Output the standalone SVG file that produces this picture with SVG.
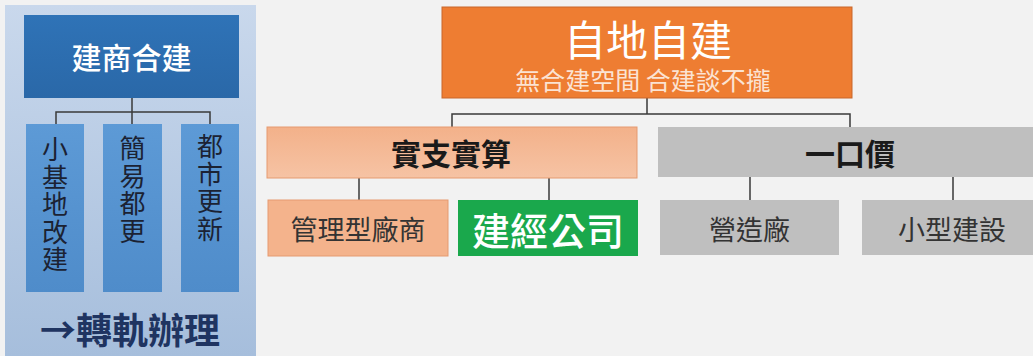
<svg xmlns="http://www.w3.org/2000/svg" width="1033" height="356" viewBox="0 0 1033 356">
<defs>
<linearGradient id="panelG" x1="0" y1="0" x2="0" y2="1">
<stop offset="0" stop-color="#c9d8ec"/>
<stop offset="1" stop-color="#a6bedc"/>
</linearGradient>
<linearGradient id="blueG" x1="0" y1="0" x2="0" y2="1">
<stop offset="0" stop-color="#2f73b7"/>
<stop offset="1" stop-color="#2a68a8"/>
</linearGradient>
<linearGradient id="colG" x1="0" y1="0" x2="0" y2="1">
<stop offset="0" stop-color="#5d9ad6"/>
<stop offset="1" stop-color="#4f8cca"/>
</linearGradient>
<linearGradient id="salG" x1="0" y1="0" x2="0" y2="1">
<stop offset="0" stop-color="#f3b18a"/>
<stop offset="1" stop-color="#f6c3a4"/>
</linearGradient>
</defs>
<style>
text{font-family:"Noto Sans CJK TC","Noto Sans CJK SC",sans-serif;text-anchor:middle;dominant-baseline:central}
.ln{fill:none;stroke:#3a3a3a;stroke-width:1.5}
.col{fill:url(#colG)}
.coltx{font-size:26px;fill:#1b2233}
.sal{fill:#f4b38c;stroke:#e59a70;stroke-width:1}
.gray{fill:#bfbfbf}
.sub{font-size:27px;fill:#333333}
.hd{font-size:30px;font-weight:bold;fill:#1a1a1a}
</style>
<rect x="0" y="0" width="1033" height="356" fill="#f2f2f2"/>

<g id="left-panel">
<rect x="5" y="5" width="251" height="351" fill="url(#panelG)"/>
</g>

<g id="connectors">
<path class="ln" d="M132 98 V112 M56 124 V112 H210 V124 M132 112 V124"/>
<path class="ln" d="M647 98 V114 M452 127 V114 H850 V127"/>
<path class="ln" d="M359 178 V200 M549 178 V200"/>
<path class="ln" d="M750 177 V200 M953 177 V200"/>
</g>

<g id="node-jianshang">
<rect x="24" y="15" width="215" height="83" fill="url(#blueG)"/>
<text x="131.5" y="56" style="font-size:30px;font-weight:500;fill:#ffffff">建商合建</text>
</g>

<g id="node-xiaojidi">
<rect class="col" x="26" y="124" width="58" height="168"/>
<text class="coltx" x="55" y="147">小</text>
<text class="coltx" x="55" y="175">基</text>
<text class="coltx" x="55" y="202.5">地</text>
<text class="coltx" x="55" y="230">改</text>
<text class="coltx" x="55" y="257.5">建</text>
</g>

<g id="node-jianyi">
<rect class="col" x="103" y="124" width="59" height="168"/>
<text class="coltx" x="132.5" y="146">簡</text>
<text class="coltx" x="132.5" y="174">易</text>
<text class="coltx" x="132.5" y="201.5">都</text>
<text class="coltx" x="132.5" y="229">更</text>
</g>

<g id="node-dushi">
<rect class="col" x="181" y="124" width="58" height="168"/>
<text class="coltx" x="210" y="144">都</text>
<text class="coltx" x="210" y="172">市</text>
<text class="coltx" x="210" y="199.5">更</text>
<text class="coltx" x="210" y="227">新</text>
</g>

<g id="label-zhuangui">
<text x="130" y="328" style="font-size:36px;font-weight:bold;fill:#1f3461">→轉軌辦理</text>
</g>

<g id="node-zidi">
<rect x="442" y="7" width="410" height="91" fill="#ee7d32" stroke="#c8672a" stroke-width="1"/>
<text x="648" y="37" style="font-size:42px;fill:#ffffff">自地自建</text>
<text x="643" y="79" style="font-size:25px;fill:#fbe3d2">無合建空間 合建談不攏</text>
</g>

<g id="node-shizhi">
<rect x="267" y="127" width="370" height="51" fill="url(#salG)" stroke="#e59a70" stroke-width="1"/>
<text x="451" y="152" class="hd">實支實算</text>
</g>

<g id="node-yikou">
<rect class="gray" x="658" y="127" width="375" height="50"/>
<text x="850" y="152" class="hd">一口價</text>
</g>

<g id="node-guanli">
<rect class="sal" x="268" y="200" width="180" height="56"/>
<text x="358" y="228" class="sub">管理型廠商</text>
</g>

<g id="node-jianjing">
<rect x="458" y="200" width="180" height="56" fill="#1aa84c"/>
<text x="548" y="228" style="font-size:38px;font-weight:500;fill:#ffffff">建經公司</text>
</g>

<g id="node-yingzao">
<rect class="gray" x="660" y="200" width="179" height="55"/>
<text x="749.5" y="228" class="sub">營造廠</text>
</g>

<g id="node-xiaoxing">
<rect class="gray" x="862" y="200" width="171" height="55"/>
<text x="952" y="228" class="sub">小型建設</text>
</g>
</svg>
